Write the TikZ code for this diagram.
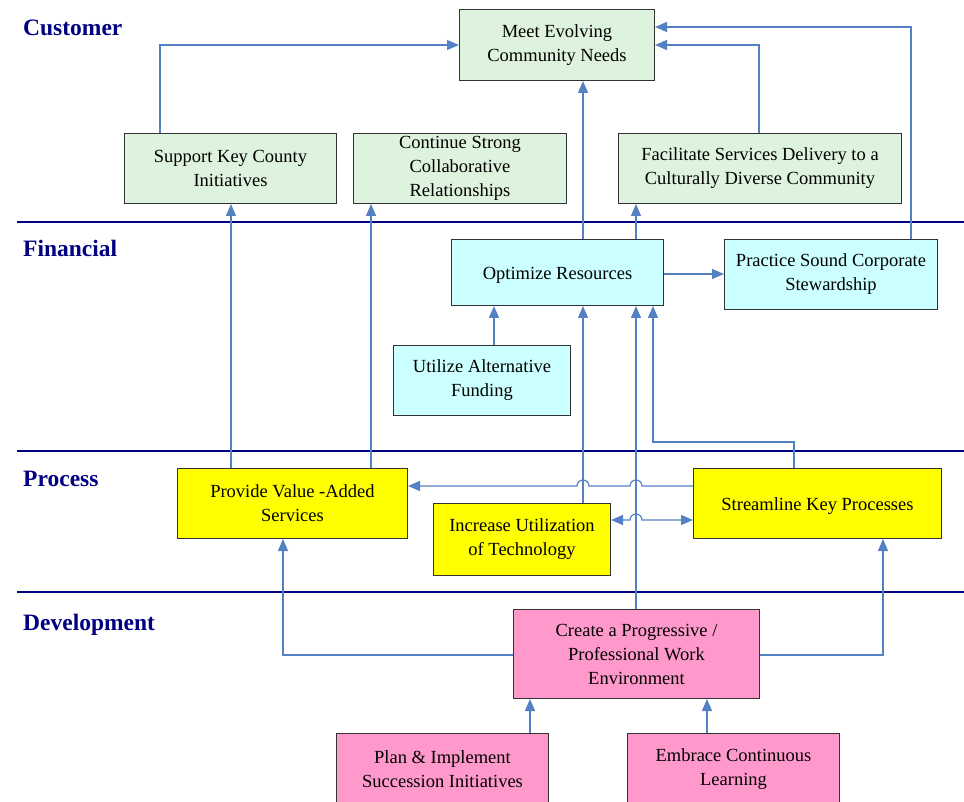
\documentclass[tikz,border=0pt]{standalone}
\usepackage{fontspec}
\setmainfont{Liberation Serif}
\usetikzlibrary{arrows.meta}
\definecolor{gfill}{RGB}{221,243,221}
\definecolor{cfill}{RGB}{204,255,255}
\definecolor{yfill}{RGB}{255,255,0}
\definecolor{pfill}{RGB}{255,153,204}
\definecolor{navyc}{RGB}{0,0,128}
\definecolor{connc}{RGB}{84,128,196}
\begin{document}
\begin{tikzpicture}[x=1pt,y=-1pt,
  box/.style={draw=black!80, line width=1pt, inner sep=2pt, align=center, anchor=north west,
    font=\fontsize{18.5}{24}\selectfont},
  oneline/.style={execute at begin node={\rule{0pt}{17pt}}},
  gbox/.style={box, fill=gfill},
  cbox/.style={box, fill=cfill},
  ybox/.style={box, fill=yfill},
  pbox/.style={box, fill=pfill},
  conn/.style={draw=connc, line width=1.2pt, -{Triangle[length=12pt,width=10pt]}},
  sepline/.style={draw=navyc, line width=2.2pt},
  header/.style={anchor=base west, inner sep=0pt, text=navyc, font=\fontsize{23.5}{28}\selectfont\bfseries}]
\useasboundingbox (0,0) rectangle (964,802);
\clip (0,0) rectangle (964,802);

% separator lines
\draw[sepline] (17,222) -- (964,222);
\draw[sepline] (17,451) -- (964,451);
\draw[sepline] (17,592) -- (964,592);

% headers
\node[header] (hcust) at (23,36) {Customer};
\node[header] (hfin) at (23,257) {Financial};
\node[header] (hproc) at (23,486) {Process};
\node[header] (hdev) at (23,630) {Development};

% boxes
\node[gbox, minimum width=195pt, minimum height=71pt] (meet) at (459,9) {Meet Evolving\\Community Needs};
\node[gbox, minimum width=212pt, minimum height=70pt] (supp) at (124,133) {Support Key County\\Initiatives};
\node[gbox, minimum width=213pt, minimum height=70pt] (cont) at (353,133) {Continue Strong\\Collaborative\\Relationships};
\node[gbox, minimum width=283pt, minimum height=70pt] (facil) at (618,133) {Facilitate Services Delivery to a\\Culturally Diverse Community};
\node[cbox, oneline, minimum width=212pt, minimum height=66pt] (opt) at (451,239) {Optimize Resources};
\node[cbox, minimum width=213pt, minimum height=70pt] (prac) at (724,239) {Practice Sound Corporate\\Stewardship};
\node[cbox, minimum width=177pt, minimum height=70pt] (util) at (393,345) {Utilize Alternative\\Funding};
\node[ybox, minimum width=230pt, minimum height=70pt] (prov) at (177,468) {Provide Value -Added\\Services};
\node[ybox, minimum width=177pt, minimum height=72pt] (incr) at (433,503) {Increase Utilization\\of Technology};
\node[ybox, oneline, minimum width=248pt, minimum height=70pt] (strm) at (693,468) {Streamline Key Processes};
\node[pbox, minimum width=246pt, minimum height=89pt] (create) at (513,609) {Create a Progressive /\\Professional Work\\Environment};
\node[pbox, minimum width=212pt, minimum height=72pt] (plan) at (336,733) {Plan \& Implement\\Succession Initiatives};
\node[pbox, minimum width=212pt, minimum height=72pt] (emb) at (627,733) {Embrace Continuous\\Learning};

% helper coordinates
\coordinate (x160) at (160,0);
\coordinate (x231) at (231,0);
\coordinate (x371) at (371,0);
\coordinate (x494) at (494,0);
\coordinate (x583) at (583,0);
\coordinate (x636) at (636,0);
\coordinate (x653) at (653,0);
\coordinate (x759) at (759,0);
\coordinate (x794) at (794,0);
\coordinate (x911) at (911,0);
\coordinate (x283) at (283,0);
\coordinate (x883) at (883,0);
\coordinate (x530) at (530,0);
\coordinate (x707) at (707,0);
\coordinate (y27) at (0,27);
\coordinate (y45) at (0,45);
\coordinate (y274) at (0,274);
\coordinate (y442) at (0,442);
\coordinate (y486) at (0,486);
\coordinate (y520) at (0,520);
\coordinate (y655) at (0,655);
\coordinate (h1) at (642,486);
\coordinate (h2) at (589,486);
\coordinate (h3) at (630,520);

% connectors
\draw[conn] (supp.north -| x160) |- (meet.west);
\draw[conn] (prov.north -| x231) -- (supp.south -| x231);
\draw[conn] (prov.north -| x371) -- (cont.south -| x371);
\draw[conn] (opt.north -| x583) -- (meet.south -| x583);
\draw[conn] (opt.north -| x636) -- (facil.south -| x636);
\draw[conn] (facil.north -| x759) |- (meet.east |- y45);
\draw[conn] (prac.north -| x911) |- (meet.east |- y27);
\draw[conn] (opt.east |- y274) -- (prac.west |- y274);
\draw[conn] (util.north -| x494) -- (opt.south -| x494);
\draw[conn] (incr.north -| x583) -- (opt.south -| x583);
\draw[conn] (create.north -| x636) -- (opt.south -| x636);
\draw[conn] (strm.north -| x794) |- (x653 |- y442) -- (opt.south -| x653);
\draw[conn] (strm.west |- y486) -- (h1) arc (0:180:6pt) -- (h2) arc (0:180:6pt) -- (prov.east |- y486);
\draw[conn, {Triangle[length=12pt,width=10pt]}-{Triangle[length=12pt,width=10pt]}] (incr.east |- y520) -- (h3) arc (180:0:6pt) -- (strm.west |- y520);
\draw[conn] (create.west |- y655) -| (prov.south -| x283);
\draw[conn] (create.east |- y655) -| (strm.south -| x883);
\draw[conn] (plan.north -| x530) -- (create.south -| x530);
\draw[conn] (emb.north -| x707) -- (create.south -| x707);
\end{tikzpicture}
\end{document}
